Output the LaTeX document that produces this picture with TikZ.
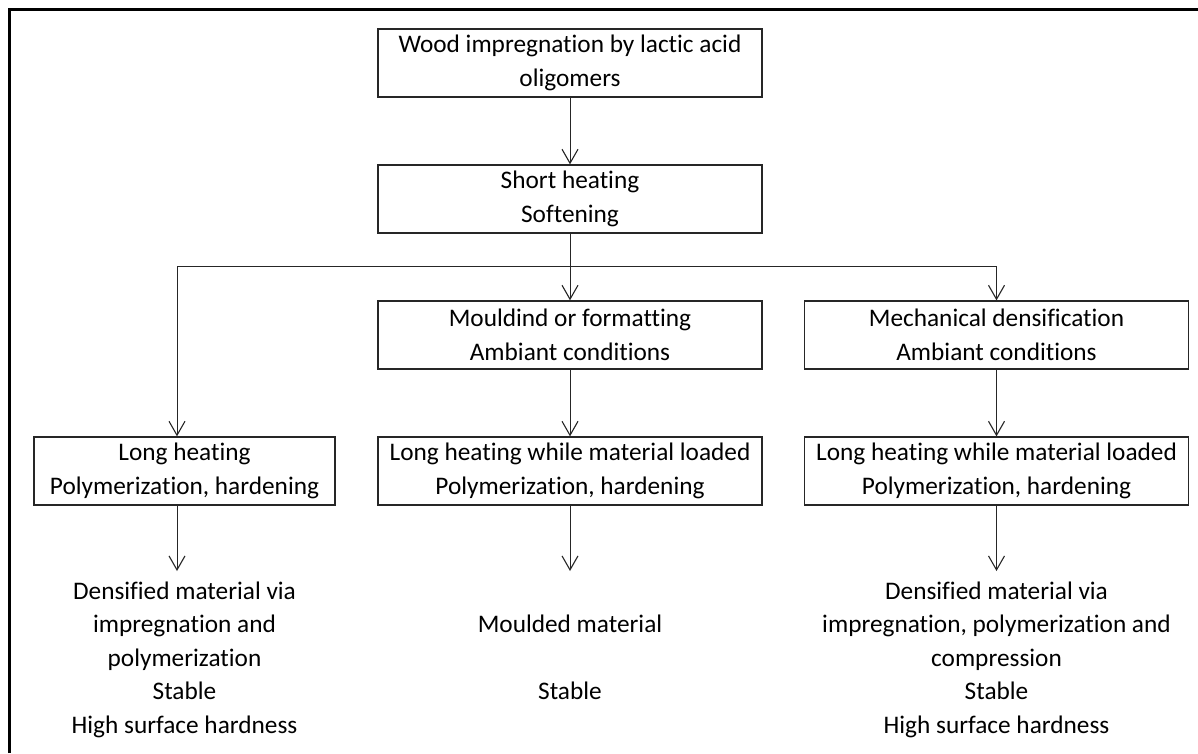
\documentclass[tikz,border=0pt]{standalone}
\usepackage{fontspec}
\setmainfont{Carlito}[Ligatures=NoCommon]
\usetikzlibrary{arrows.meta}
\begin{document}
\begin{tikzpicture}[x=1pt,y=-1pt,
  txt/.style={font=\fontsize{25.3}{33.5}\selectfont, align=center},
  box/.style={txt, draw=black!85, line width=1.3pt, rectangle, minimum height=68pt, inner sep=0pt},
  wide/.style={box, minimum width=384pt},
  narrow/.style={box, minimum width=301pt},
  conn/.style={draw=black!85, line width=1pt},
  arr/.style={conn, -{Straight Barb[length=14pt,width=16pt,line width=1.1pt]}},
  result/.style={txt, inner sep=0pt}
]
\useasboundingbox (0,0) rectangle (1198,753);
\fill[white] (0,0) rectangle (1198,753);
\draw[line width=3pt] (9.5,753) -- (9.5,9.5) -- (1198,9.5);

\node[wide] (b1) at (570,63) {Wood impregnation by lactic acid\\oligomers};
\node[wide] (b2) at (570,199) {Short heating\\Softening};
\node[wide] (b3) at (570,335) {Mouldind or formatting\\Ambiant conditions};
\node[wide] (b4) at (996.5,335) {Mechanical densification\\Ambiant conditions};
\node[narrow] (b5) at (184.5,471) {Long heating\\Polymerization, hardening};
\node[wide] (b6) at (570,471) {Long heating while material loaded\\Polymerization, hardening};
\node[wide] (b7) at (996.5,471) {Long heating while material loaded\\Polymerization, hardening};

\node[result] (r1) at (184.5,659.5) {Densified material via\\impregnation and\\polymerization\\Stable\\High surface hardness};
\node[result] (r2) at (570,657) {Moulded material\\[33.5pt]Stable};
\node[result] (r3) at (996.5,659.5) {Densified material via\\impregnation, polymerization and\\compression\\Stable\\High surface hardness};

\coordinate (jl) at (177,266);
\coordinate (jr) at (996.5,266);
\coordinate (e1) at (177,571);
\coordinate (e2) at (570,571);
\coordinate (e3) at (996.5,571);

\draw[arr] (b1) -- (b2);
\draw[arr] (b2) -- (b3);
\draw[conn] (jl) -- (jr);
\draw[arr] (jl) -- (jl |- b5.north);
\draw[arr] (jr) -- (b4);
\draw[arr] (b3) -- (b6);
\draw[arr] (b4) -- (b7);
\draw[arr] (e1 |- b5.south) -- (e1);
\draw[arr] (b6) -- (e2);
\draw[arr] (b7) -- (e3);
\end{tikzpicture}
\end{document}
